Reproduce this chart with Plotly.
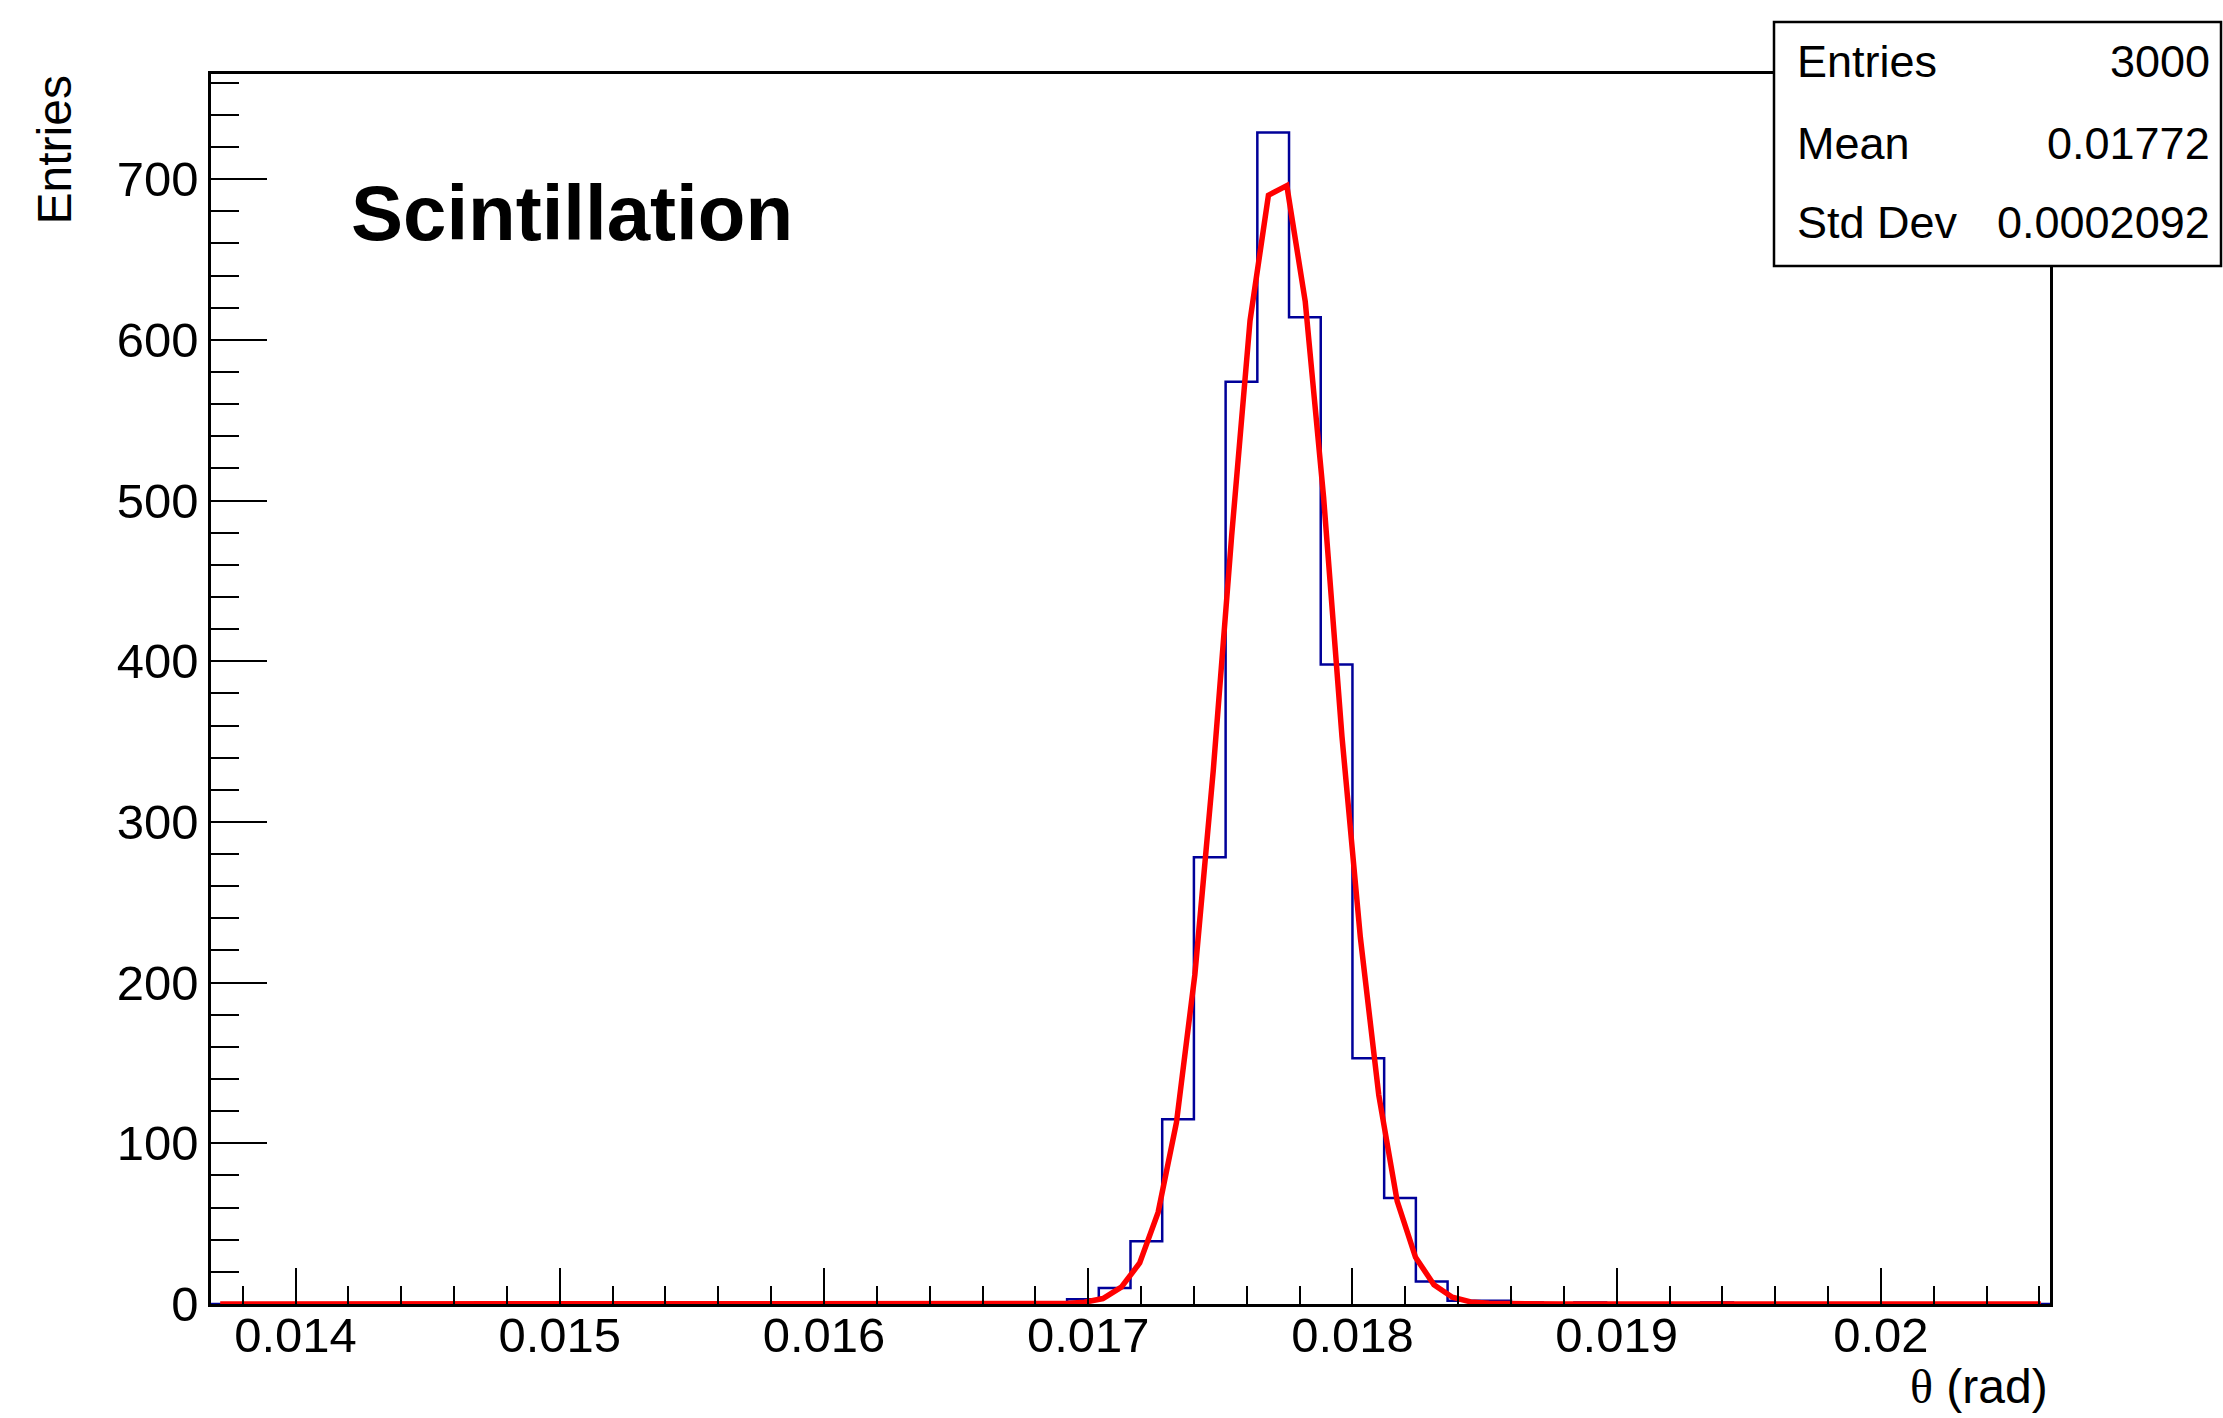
import numpy as np
import plotly.graph_objects as go

# ---- histogram: 58 bins of 0.12 mrad between 13.68 and 20.64 mrad ----
theta_min = 0.01368
theta_max = 0.02064
n_bins = 58

# bin contents
counts = ([0] * 27
          + [3, 10, 39, 115, 278, 574, 729, 614, 398, 153, 66, 14,
             2, 2, 1, 0, 1, 0, 0, 0, 1]
          + [0] * 10)

# ---- gaussian fit, sampled at the bin centres of a 100-point grid ----
fit_npx = 100
fit_values = ([0.0] * 44
              + [0.03, 0.09, 0.33, 1.1, 3.4, 10.5, 25.5, 57, 113, 205, 332,
                 478, 612, 690, 696, 624, 502, 353, 228, 130, 64, 29, 12,
                 4.2, 1.3, 0.4, 0.1, 0.02]
              + [0.0] * 28)

x_ticks = [0.014, 0.015, 0.016, 0.017, 0.018, 0.019, 0.020]
x_tick_text = ["0.014", "0.015", "0.016", "0.017", "0.018", "0.019", "0.02"]
y_ticks = [0, 100, 200, 300, 400, 500, 600, 700]

title_text = "Scintillation"
x_title_symbol = "θ"
x_title_unit = " (rad)"
y_title = "Entries"

# ---- derived quantities ----
edges = theta_min + (theta_max - theta_min) * np.arange(n_bins + 1) / n_bins
centres = 0.5 * (edges[:-1] + edges[1:])
w = np.array(counts, dtype=float)
n_entries = int(w.sum())
mean = float((w * centres).sum() / w.sum())
std = float(np.sqrt((w * (centres - mean) ** 2).sum() / w.sum()))
y_max = 1.05 * max(counts)

dx_fit = (theta_max - theta_min) / fit_npx
fit_x = theta_min + (np.arange(fit_npx) + 0.5) * dx_fit

# ---- canvas geometry ----
W, H = 2223, 1418
L, R, T, B = 211, 173, 74, 114
PW, PH = W - L - R, H - T - B


def px(x):
    return (x - L) / PW


def py(y):
    return (H - B - y) / PH


FONT = "Liberation Sans, Arial, Helvetica, sans-serif"
SERIF = "Liberation Serif, Times New Roman, serif"

fig = go.Figure()
fig.add_trace(go.Scatter(
    x=edges, y=counts + [counts[-1]], mode="lines",
    line=dict(shape="hv", color="#000099", width=2.5),
    hoverinfo="skip"))
fig.add_trace(go.Scatter(
    x=fit_x, y=fit_values, mode="lines",
    line=dict(color="#ff0000", width=5.5),
    hoverinfo="skip"))

axis_common = dict(
    ticks="inside", tickwidth=2, tickcolor="black",
    showline=True, linecolor="black", linewidth=2.5, mirror=True,
    showgrid=False, zeroline=False,
    tickfont=dict(family=FONT, size=49, color="black"),
)

fig.update_xaxes(
    range=[theta_min, theta_max],
    tickmode="array", tickvals=x_ticks, ticktext=x_tick_text,
    ticklen=36, ticklabelstandoff=-14,
    minor=dict(ticks="inside", ticklen=18, tickwidth=2, tickcolor="black",
               tickmode="linear", tick0=0.014, dtick=0.0002),
    **axis_common)
fig.update_yaxes(
    range=[0, y_max],
    tickmode="array", tickvals=y_ticks, ticktext=[str(v) for v in y_ticks],
    ticklen=56,
    minor=dict(ticks="inside", ticklen=28, tickwidth=2, tickcolor="black",
               tickmode="linear", tick0=0, dtick=20),
    **axis_common)

annotations = [
    dict(text="<b>%s</b>" % title_text, x=px(349), y=py(213),
         xanchor="left", yanchor="middle",
         font=dict(family=FONT, size=78, color="black")),
    dict(text=('<span style="font-family:%s">%s</span>%s'
               % (SERIF.split(",")[0], x_title_symbol, x_title_unit)),
         x=1.0, y=py(1386), xanchor="right", yanchor="middle",
         font=dict(family=FONT, size=48, color="black")),
    dict(text=y_title, x=px(54), y=1.0, xanchor="center", yanchor="top",
         textangle=-90, font=dict(family=FONT, size=48, color="black")),
]

# statistics box
stat_rows = [("Entries", "%d" % n_entries),
             ("Mean", "%.4g" % mean),
             ("Std Dev", "%.4g" % std)]
row_y = [62, 143, 223]
for (lab, val), yy in zip(stat_rows, row_y):
    annotations.append(dict(text=lab, x=px(1795), y=py(yy), xanchor="left",
                            yanchor="middle",
                            font=dict(family=FONT, size=45, color="black")))
    annotations.append(dict(text=val, x=px(2212), y=py(yy), xanchor="right",
                            yanchor="middle",
                            font=dict(family=FONT, size=45, color="black")))

for a in annotations:
    a.update(xref="paper", yref="paper", showarrow=False)

fig.update_layout(
    width=W, height=H,
    margin=dict(l=L, r=R, t=T, b=B, pad=0),
    paper_bgcolor="white", plot_bgcolor="white",
    showlegend=False,
    font=dict(family=FONT, color="black"),
    annotations=annotations,
    shapes=[dict(type="rect", xref="paper", yref="paper",
                 x0=px(1774), x1=px(2221), y0=py(266), y1=py(22),
                 line=dict(color="black", width=2.5), fillcolor="white",
                 layer="above")],
)

fig.write_html("out.html")
